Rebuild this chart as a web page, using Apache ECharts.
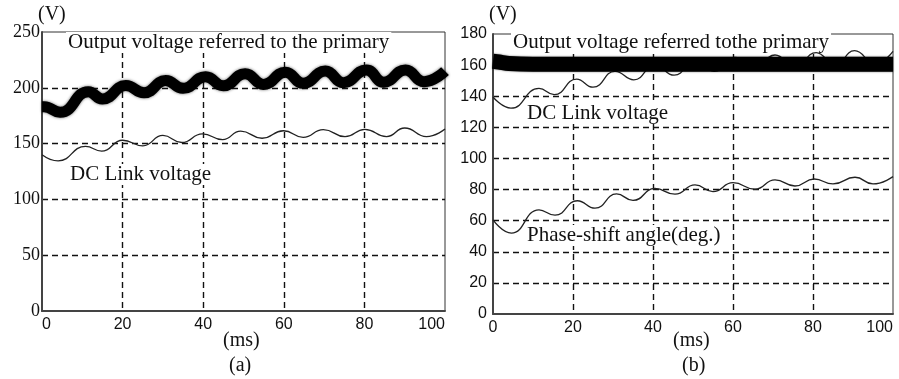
<!DOCTYPE html>
<html><head><meta charset="utf-8">
<script src="https://cdn.jsdelivr.net/npm/echarts@6/dist/echarts.min.js"></script>
<style>html,body{margin:0;padding:0;background:#fff}#c{width:899px;height:379px}</style>
</head><body><div id="c"></div>
<script>
// Panel (a): output voltage referred to the primary (V)
const tA_out = [0, 0.5, 4.5, 11.5, 15, 20.8, 25.3, 30.7, 35, 40.6, 45, 50.4, 55, 60.4, 64.8, 70.3, 74.8, 80.5, 84.8, 90.2, 94.8, 100];
const vA_out = [183, 183, 178, 196.5, 190, 202, 195.5, 206.5, 199.5, 210, 201.8, 212.5, 203, 214, 204, 215, 204.5, 216, 205, 216, 205.5, 215];
// Panel (a): DC link voltage (V)
const tA_dc = [0, 4, 10.8, 14.8, 20, 25, 30, 34.7, 39.8, 44.8, 49.3, 54.6, 59.9, 64.8, 69.8, 75.2, 80.1, 85.5, 90, 95.4, 100];
const vA_dc = [140, 134.5, 147.5, 143.2, 153, 148, 157.3, 151, 158.8, 153.5, 161.2, 154.8, 161.5, 155.6, 162.6, 156.2, 162.8, 156.3, 164, 156.3, 163];
// Panel (b): output voltage referred to the primary (V)
const tB_out = [0, 1.5, 4, 10, 20, 30, 40, 50, 60, 70, 80, 90, 100];
const vB_out = [162.5, 162, 161, 160.5, 160.5, 160.5, 160.5, 160.5, 160.5, 160.5, 160.5, 160.5, 160.5];
// Panel (b): DC link voltage (V)
const tB_dc = [0, 4.5, 11.5, 15.3, 20.9, 25, 30.5, 35.2, 40.5, 45.3, 50.5, 55.3, 60.5, 65.5, 70.5, 75.5, 80.8, 85.5, 90.4, 95.5, 100];
const vB_dc = [139.5, 132.3, 145, 141, 151, 145.8, 156, 150.5, 160, 153.5, 163, 156, 165, 158, 166.5, 159, 168, 160, 169.3, 161, 168.8];
// Panel (b): phase-shift angle (deg)
const tB_ph = [0, 4.6, 11.5, 15.5, 21.1, 25.5, 30.9, 35, 40.5, 45.5, 50.5, 55, 60, 65.5, 70.5, 75.5, 80.3, 85, 90.5, 95, 100];
const vB_ph = [60.5, 52, 67, 63.5, 72.8, 68, 77.2, 73, 80.7, 77, 83, 78.7, 84.4, 80.2, 86.2, 82.3, 86.8, 83.6, 87.9, 83.6, 88.3];

const xTicks = [0, 20, 40, 60, 80, 100];
const yTicksA = [0, 50, 100, 150, 200, 250];
const yTicksB = [0, 20, 40, 60, 80, 100, 120, 140, 160, 180];

const pairs = (t, v) => t.map((x, i) => [x, v[i]]);

const serif = "'Liberation Serif', 'Times New Roman', serif";
const sans = "'Liberation Sans', Arial, sans-serif";
const dashed = { show: true, showMinLine: false, showMaxLine: false, lineStyle: { color: '#111', width: 1.4, type: [6, 4] } };
const axisLine = { show: true, lineStyle: { color: '#444', width: 2 } };

function xAxis(gi, alignMin) {
  return {
    type: 'value', gridIndex: gi, min: xTicks[0], max: xTicks[xTicks.length - 1], interval: 20,
    axisLine: axisLine, axisTick: { show: false }, splitLine: dashed,
    axisLabel: { color: '#111', fontFamily: sans, fontSize: 16, margin: 6,
      alignMinLabel: alignMin, alignMaxLabel: 'right' }
  };
}

const chart = echarts.init(document.getElementById('c'));
chart.setOption({
  animation: false,
  backgroundColor: '#fff',
  grid: [
    { left: 42, right: 454, top: 32, bottom: 68, show: true, borderColor: '#333', borderWidth: 1, backgroundColor: 'transparent' },
    { left: 493, right: 6, top: 34, bottom: 65, show: true, borderColor: '#333', borderWidth: 1, backgroundColor: 'transparent' }
  ],
  xAxis: [xAxis(0, 'left'), xAxis(1, 'center')],
  yAxis: [
    { type: 'value', gridIndex: 0, min: yTicksA[0], max: yTicksA[yTicksA.length - 1], interval: 50,
      axisLine: axisLine, axisTick: { show: false }, splitLine: dashed,
      axisLabel: { color: '#111', fontFamily: serif, fontSize: 18, margin: 2 } },
    { type: 'value', gridIndex: 1, min: yTicksB[0], max: yTicksB[yTicksB.length - 1], interval: 20,
      axisLine: axisLine, axisTick: { show: false }, splitLine: dashed,
      axisLabel: { color: '#111', fontFamily: sans, fontSize: 16, margin: 6 } }
  ],
  series: [
    { type: 'line', xAxisIndex: 0, yAxisIndex: 0, data: pairs(tA_out, vA_out), smooth: 0.5, symbol: 'none',
      lineStyle: { color: '#000', width: 11, cap: 'butt', shadowColor: 'rgba(0,0,0,0.6)', shadowBlur: 3 }, z: 3 },
    { type: 'line', xAxisIndex: 0, yAxisIndex: 0, data: pairs(tA_dc, vA_dc), smooth: 0.5, symbol: 'none',
      lineStyle: { color: '#222', width: 1.3 }, z: 3 },
    { type: 'line', xAxisIndex: 1, yAxisIndex: 1, data: pairs(tB_dc, vB_dc), smooth: 0.5, symbol: 'none',
      lineStyle: { color: '#222', width: 1.3 }, z: 3 },
    { type: 'line', xAxisIndex: 1, yAxisIndex: 1, data: pairs(tB_out, vB_out), smooth: 0.3, symbol: 'none',
      lineStyle: { color: '#000', width: 15, cap: 'butt', shadowColor: 'rgba(0,0,0,0.6)', shadowBlur: 2 }, z: 4 },
    { type: 'line', xAxisIndex: 1, yAxisIndex: 1, data: pairs(tB_ph, vB_ph), smooth: 0.5, symbol: 'none',
      lineStyle: { color: '#222', width: 1.3 }, z: 3 }
  ],
  graphic: [
    { type: 'text', left: 38, top: 5, z: 1, style: { text: '(V)', font: '20px ' + serif, fill: '#111' } },
    { type: 'text', left: 489, top: 5, z: 1, style: { text: '(V)', font: '20px ' + serif, fill: '#111' } },
    { type: 'text', left: 66, top: 32, z: 1, style: { text: 'Output voltage referred to the primary', font: '21px ' + serif, fill: '#111', backgroundColor: '#fff', padding: [0, 2] } },
    { type: 'text', left: 68, top: 164, z: 1, style: { text: 'DC Link voltage', font: '21px ' + serif, fill: '#111', backgroundColor: '#fff', padding: [0, 2] } },
    { type: 'text', left: 511, top: 32, z: 1, style: { text: 'Output voltage referred tothe primary', font: '21px ' + serif, fill: '#111', backgroundColor: '#fff', padding: [0, 2] } },
    { type: 'text', left: 525, top: 103, z: 1, style: { text: 'DC Link voltage', font: '21px ' + serif, fill: '#111', backgroundColor: '#fff', padding: [0, 2] } },
    { type: 'text', left: 525, top: 225, z: 1, style: { text: 'Phase-shift angle(deg.)', font: '21px ' + serif, fill: '#111', backgroundColor: '#fff', padding: [0, 2] } },
    { type: 'text', left: 223, top: 331, z: 1, style: { text: '(ms)', font: '20px ' + serif, fill: '#111' } },
    { type: 'text', left: 229, top: 356, z: 1, style: { text: '(a)', font: '20px ' + serif, fill: '#111' } },
    { type: 'text', left: 673, top: 331, z: 1, style: { text: '(ms)', font: '20px ' + serif, fill: '#111' } },
    { type: 'text', left: 682, top: 356, z: 1, style: { text: '(b)', font: '20px ' + serif, fill: '#111' } }
  ]
});
</script></body></html>
